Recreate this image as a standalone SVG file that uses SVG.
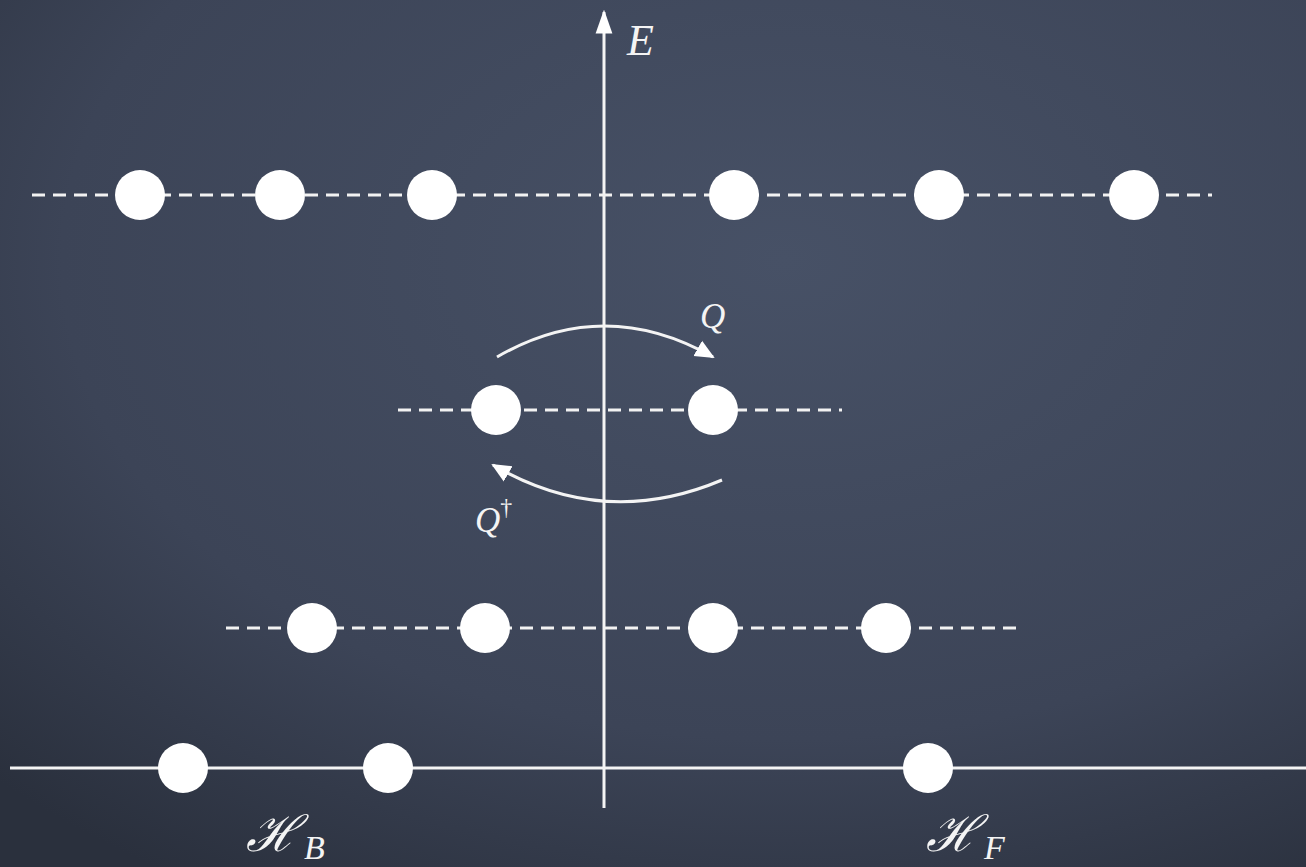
<svg xmlns="http://www.w3.org/2000/svg" width="1306" height="867" viewBox="0 0 1306 867">
<defs>
<radialGradient id="bg" cx="0.6" cy="0.3" r="0.85">
<stop offset="0" stop-color="#475166"/>
<stop offset="0.65" stop-color="#3c4457"/>
<stop offset="1" stop-color="#2a303d"/>
</radialGradient>
<marker id="ah" viewBox="0 0 10 10" refX="9" refY="5" markerWidth="6.5" markerHeight="6.5" orient="auto" markerUnits="strokeWidth">
<path d="M0,0.5 L10,5 L0,9.5 Z" fill="#ffffff"/>
</marker>
<marker id="axh" viewBox="0 0 10 10" refX="9" refY="5" markerWidth="8" markerHeight="8" orient="auto" markerUnits="strokeWidth">
<path d="M0,1.5 L10,5 L0,8.5 Z" fill="#ffffff"/>
</marker>
</defs>
<style>
.dash{stroke:#f2f2f2;stroke-width:3;stroke-dasharray:13 8;fill:none}
.axis{stroke:#f4f4f4;stroke-width:3;fill:none}
.arc{stroke:#f4f4f4;stroke-width:3;fill:none}
.dot{fill:#ffffff}
.lbl{fill:#f4f4f4;font-family:"Liberation Serif","DejaVu Serif",serif;font-style:italic}
</style>
<rect width="1306" height="867" fill="url(#bg)"/>
<g id="connectors">
<line class="axis" x1="10" y1="768" x2="1306" y2="768"/>
<line class="axis" x1="604" y1="808" x2="604" y2="12" marker-end="url(#axh)"/>
<line class="dash" x1="32" y1="195" x2="1212" y2="195"/>
<line class="dash" x1="398" y1="410" x2="842" y2="410"/>
<line class="dash" x1="226" y1="628" x2="1016" y2="628"/>
<path class="arc" d="M497,357 Q604,295 713,357" marker-end="url(#ah)"/>
<path class="arc" d="M722,480 Q604,530 493,465" marker-end="url(#ah)"/>
</g>
<g id="row-top">
<circle class="dot" cx="140" cy="195" r="25"/>
<circle class="dot" cx="280" cy="195" r="25"/>
<circle class="dot" cx="432" cy="195" r="25"/>
<circle class="dot" cx="734" cy="195" r="25"/>
<circle class="dot" cx="939" cy="195" r="25"/>
<circle class="dot" cx="1134" cy="195" r="25"/>
</g>
<g id="row-middle">
<circle class="dot" cx="496" cy="410" r="25"/>
<circle class="dot" cx="713" cy="410" r="25"/>
</g>
<g id="row-lower">
<circle class="dot" cx="312" cy="628" r="25"/>
<circle class="dot" cx="485" cy="628" r="25"/>
<circle class="dot" cx="713" cy="628" r="25"/>
<circle class="dot" cx="886" cy="628" r="25"/>
</g>
<g id="row-ground">
<circle class="dot" cx="183" cy="768" r="25"/>
<circle class="dot" cx="388" cy="768" r="25"/>
<circle class="dot" cx="928" cy="768" r="25"/>
</g>
<g id="labels">
<text class="lbl" x="627" y="55" font-size="44">E</text>
<text class="lbl" x="700" y="328" font-size="35">Q</text>
<text class="lbl" x="475" y="532" font-size="35">Q<tspan font-size="24" dy="-17" font-style="normal">†</tspan></text>
<text class="lbl" x="246" y="851" font-size="50" font-family="'DejaVu Serif','Noto Sans',serif">ℋ<tspan font-size="34" dx="5" dy="8" font-family="'Liberation Serif',serif">B</tspan></text>
<text class="lbl" x="926" y="851" font-size="50" font-family="'DejaVu Serif','Noto Sans',serif">ℋ<tspan font-size="34" dx="5" dy="8" font-family="'Liberation Serif',serif">F</tspan></text>
</g>
</svg>
